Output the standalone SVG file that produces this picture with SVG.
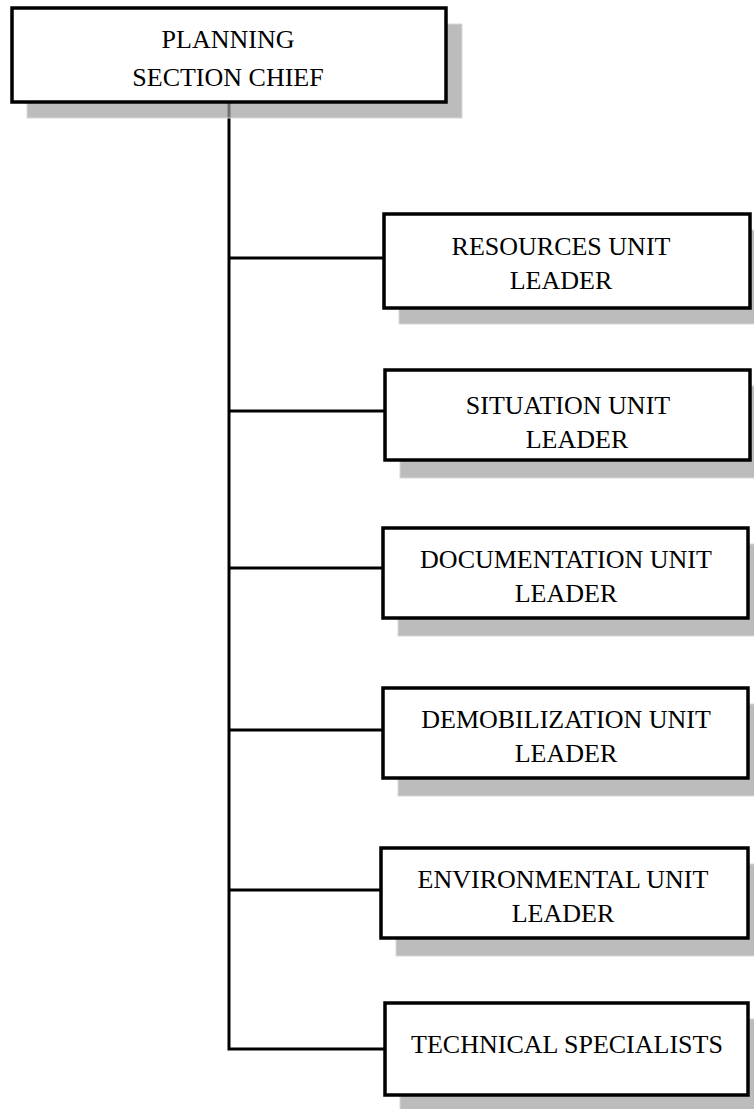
<svg xmlns="http://www.w3.org/2000/svg" width="754" height="1109" viewBox="0 0 754 1109">
<style>
.bg{fill:#ffffff}
.shadow{fill:#a0a0a0;fill-opacity:0.7;stroke:#d8d8d8;stroke-width:1}
.box{fill:#ffffff;stroke:#000000;stroke-width:3.5}
.conn{fill:none;stroke:#000000;stroke-width:3}
.t{font-family:"Liberation Serif","Times New Roman",serif;font-size:26px;fill:#000000;text-anchor:middle}
</style>
<rect class="bg" x="0" y="0" width="754" height="1109"/>
<g id="connectors">
<path class="conn" d="M229 102 V1049 H385"/>
<path class="conn" d="M229 258 H384"/>
<path class="conn" d="M229 411 H385"/>
<path class="conn" d="M229 568 H383"/>
<path class="conn" d="M229 730 H383"/>
<path class="conn" d="M229 890 H381"/>
</g>
<g id="planning-section-chief">
<rect class="shadow" x="27" y="24" width="435" height="94"/>
<rect class="box" x="12" y="8" width="434" height="94"/>
<text class="t" x="228" y="48">PLANNING</text>
<text class="t" x="228" y="86">SECTION CHIEF</text>
</g>
<g id="resources-unit-leader">
<rect class="shadow" x="399" y="230" width="366" height="94"/>
<rect class="box" x="384" y="214" width="366" height="94"/>
<text class="t" x="561" y="255">RESOURCES UNIT</text>
<text class="t" x="561" y="289">LEADER</text>
</g>
<g id="situation-unit-leader">
<rect class="shadow" x="400" y="386" width="366" height="92"/>
<rect class="box" x="385" y="370" width="365" height="90"/>
<text class="t" x="568" y="414">SITUATION UNIT</text>
<text class="t" x="577" y="448">LEADER</text>
</g>
<g id="documentation-unit-leader">
<rect class="shadow" x="398" y="544" width="366" height="92"/>
<rect class="box" x="383" y="528" width="365" height="90"/>
<text class="t" x="566" y="568">DOCUMENTATION UNIT</text>
<text class="t" x="566" y="602">LEADER</text>
</g>
<g id="demobilization-unit-leader">
<rect class="shadow" x="398" y="704" width="366" height="92"/>
<rect class="box" x="383" y="688" width="365" height="90"/>
<text class="t" x="566" y="728">DEMOBILIZATION UNIT</text>
<text class="t" x="566" y="762">LEADER</text>
</g>
<g id="environmental-unit-leader">
<rect class="shadow" x="396" y="864" width="368" height="92"/>
<rect class="box" x="381" y="848" width="367" height="90"/>
<text class="t" x="563" y="888">ENVIRONMENTAL UNIT</text>
<text class="t" x="563" y="922">LEADER</text>
</g>
<g id="technical-specialists">
<rect class="shadow" x="400" y="1019" width="364" height="94"/>
<rect class="box" x="385" y="1003" width="363" height="92"/>
<text class="t" x="567" y="1053">TECHNICAL SPECIALISTS</text>
</g>
</svg>
